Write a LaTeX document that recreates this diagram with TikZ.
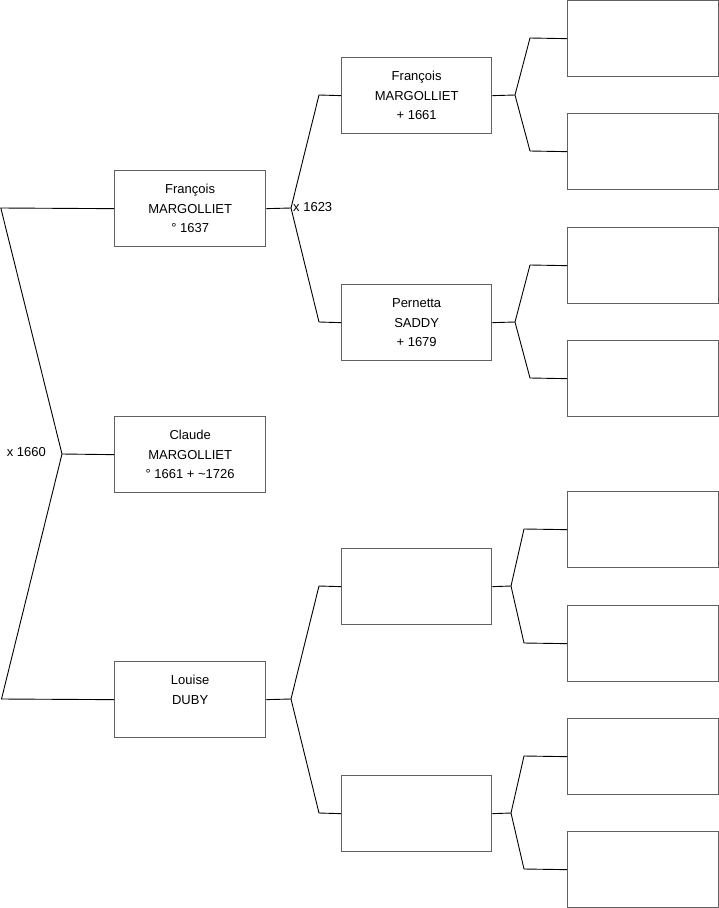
\documentclass[tikz,border=0pt]{standalone}
\usepackage{fontspec}
\setmainfont{Liberation Sans}
\begin{document}
\begin{tikzpicture}[x=1pt,y=-1pt,
  person/.style={draw=black!62, line width=1.3pt, fill=white, rectangle,
    minimum width=151pt, minimum height=76pt, inner sep=0pt, anchor=north west,
    align=center, font=\fontsize{13}{19.5}\selectfont},
  conn/.style={draw=black, line width=0.9pt},
  lbl/.style={inner sep=0pt, font=\fontsize{13}{15}\selectfont}]
\useasboundingbox (0,0) rectangle (719,908);
% generation 1 and 2
\node[person] (claude) at (114,416) {Claude\\MARGOLLIET\\° 1661 + \textasciitilde1726};
\node[person] (f1) at (114,170) {François\\MARGOLLIET\\° 1637};
\node[person] (louise) at (114,661) {Louise\\DUBY\\\mbox{}};
% generation 3
\node[person, minimum width=150pt] (gf) at (341,57) {François\\MARGOLLIET\\+ 1661};
\node[person, minimum width=150pt] (pern) at (341,284) {Pernetta\\SADDY\\+ 1679};
\node[person, minimum width=150pt] (e1) at (341,548) {};
\node[person, minimum width=150pt] (e2) at (341,775) {};
% generation 4
\node[person] (r1) at (567,0) {};
\node[person] (r2) at (567,113) {};
\node[person] (r3) at (567,227) {};
\node[person] (r4) at (567,340) {};
\node[person] (r5) at (567,491) {};
\node[person] (r6) at (567,605) {};
\node[person] (r7) at (567,718) {};
\node[person] (r8) at (567,831) {};
% couple Claude
\coordinate (a0) at (0.8,208);
\coordinate (av) at (62,454);
\coordinate (a1) at (1.5,699);
\draw[conn] (f1.west) -- (a0) -- (av) -- (a1) -- (louise.west);
\draw[conn] (av) -- (claude.west);
\node[lbl, anchor=east] (m1) at (46,452.5) {x 1660};
% couple of F1
\coordinate (bv) at (291,208);
\coordinate (bt) at (319,95);
\coordinate (bb) at (319,322);
\draw[conn] (f1.east) -- (bv);
\draw[conn] (gf.west) -- (bt) -- (bv) -- (bb) -- (pern.west);
\node[lbl, anchor=west] (m2) at (293,207.5) {x 1623};
% couple of Louise
\coordinate (cv) at (291,699);
\coordinate (ct) at (319,586);
\coordinate (cb) at (319,813);
\draw[conn] (louise.east) -- (cv);
\draw[conn] (e1.west) -- (ct) -- (cv) -- (cb) -- (e2.west);
% parents of gf
\coordinate (dv) at (515,95);
\coordinate (dt) at (530,38);
\coordinate (db) at (530,151);
\draw[conn] (gf.east) -- (dv);
\draw[conn] (r1.west) -- (dt) -- (dv) -- (db) -- (r2.west);
% parents of pernetta
\coordinate (ev) at (515,322);
\coordinate (et) at (530,265);
\coordinate (eb) at (530,378);
\draw[conn] (pern.east) -- (ev);
\draw[conn] (r3.west) -- (et) -- (ev) -- (eb) -- (r4.west);
% parents of e1
\coordinate (fv) at (511,586);
\coordinate (ft) at (524,529);
\coordinate (fb) at (524,643);
\draw[conn] (e1.east) -- (fv);
\draw[conn] (r5.west) -- (ft) -- (fv) -- (fb) -- (r6.west);
% parents of e2
\coordinate (gv) at (511,813);
\coordinate (gt) at (524,756);
\coordinate (gb) at (524,869);
\draw[conn] (e2.east) -- (gv);
\draw[conn] (r7.west) -- (gt) -- (gv) -- (gb) -- (r8.west);
\end{tikzpicture}
\end{document}
